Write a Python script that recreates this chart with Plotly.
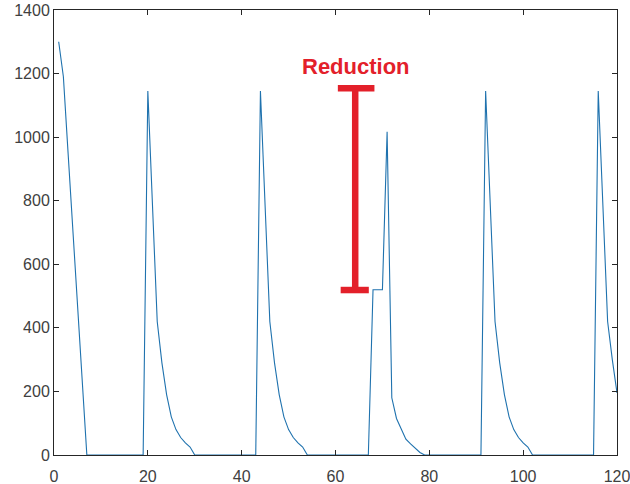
import plotly.graph_objects as go

# ---- data ----
time_steps = list(range(1, 121))
queue_values = [
    1300, 1190, 950, 715, 475, 240, 0, 0, 0, 0,          # 1-10
    0, 0, 0, 0, 0, 0, 0, 0, 0, 1145,                      # 11-20
    780, 420, 290, 190, 120, 80, 55, 38, 25, 0,          # 21-30
    0, 0, 0, 0, 0, 0, 0, 0, 0, 0,                         # 31-40
    0, 0, 0, 1145, 780, 420, 290, 190, 120, 80,          # 41-50
    55, 38, 25, 0, 0, 0, 0, 0, 0, 0,                      # 51-60
    0, 0, 0, 0, 0, 0, 0, 520, 520, 520,                   # 61-70
    1017, 180, 115, 80, 50, 35, 20, 8, 0, 0,             # 71-80
    0, 0, 0, 0, 0, 0, 0, 0, 0, 0,                         # 81-90
    0, 1145, 780, 420, 290, 190, 120, 80, 55, 38,        # 91-100
    25, 0, 0, 0, 0, 0, 0, 0, 0, 0,                        # 101-110
    0, 0, 0, 0, 0, 1145, 780, 420, 300, 195,             # 111-120
]
x_ticks = [0, 20, 40, 60, 80, 100, 120]
y_ticks = [0, 200, 400, 600, 800, 1000, 1200, 1400]
annotation_text = "Reduction"
reduction_top = 1154
reduction_bottom = 519

RED = "#E3202A"
AX = "#262626"

fig = go.Figure()
fig.add_trace(go.Scatter(
    x=time_steps, y=queue_values, mode="lines",
    line=dict(color="#1F72AE", width=1.1),
    showlegend=False, hoverinfo="skip",
))

bar_x = 64.2
shapes = [
    dict(type="line", xref="x", yref="y", x0=bar_x, x1=bar_x,
         y0=reduction_bottom, y1=reduction_top, line=dict(color=RED, width=6.5)),
    dict(type="line", xref="x", yref="y", x0=60.5, x1=68.3,
         y0=reduction_top, y1=reduction_top, line=dict(color=RED, width=6.5)),
    dict(type="line", xref="x", yref="y", x0=61.1, x1=67.1,
         y0=reduction_bottom, y1=reduction_bottom, line=dict(color=RED, width=6.5)),
]

fig.update_layout(
    width=630, height=484,
    margin=dict(l=54, r=13, t=10, b=29, autoexpand=False),
    paper_bgcolor="white", plot_bgcolor="white",
    font=dict(family="Liberation Sans, Arial, sans-serif", size=16, color="#404040"),
    shapes=shapes,
    annotations=[dict(
        x=64.3, y=1223, xref="x", yref="y", text="<b>" + annotation_text + "</b>",
        showarrow=False, font=dict(family="Liberation Sans, Arial, sans-serif", size=22, color=RED),
        xanchor="center", yanchor="middle",
    )],
    xaxis=dict(
        range=[0, 120], tickvals=x_ticks, ticktext=[str(v) for v in x_ticks],
        showgrid=False, zeroline=False, showline=True, linecolor=AX, linewidth=1,
        mirror="allticks", ticks="inside", ticklen=5, tickcolor=AX, tickwidth=1,
        automargin=False, ticklabeloverflow="allow", ticklabelstandoff=7,
    ),
    yaxis=dict(
        range=[0, 1400], tickvals=y_ticks, ticktext=[str(v) for v in y_ticks],
        showgrid=False, zeroline=False, showline=True, linecolor=AX, linewidth=1,
        mirror="allticks", ticks="inside", ticklen=5, tickcolor=AX, tickwidth=1,
        automargin=False, ticklabeloverflow="allow",
    ),
)

fig.write_html("out.html")
